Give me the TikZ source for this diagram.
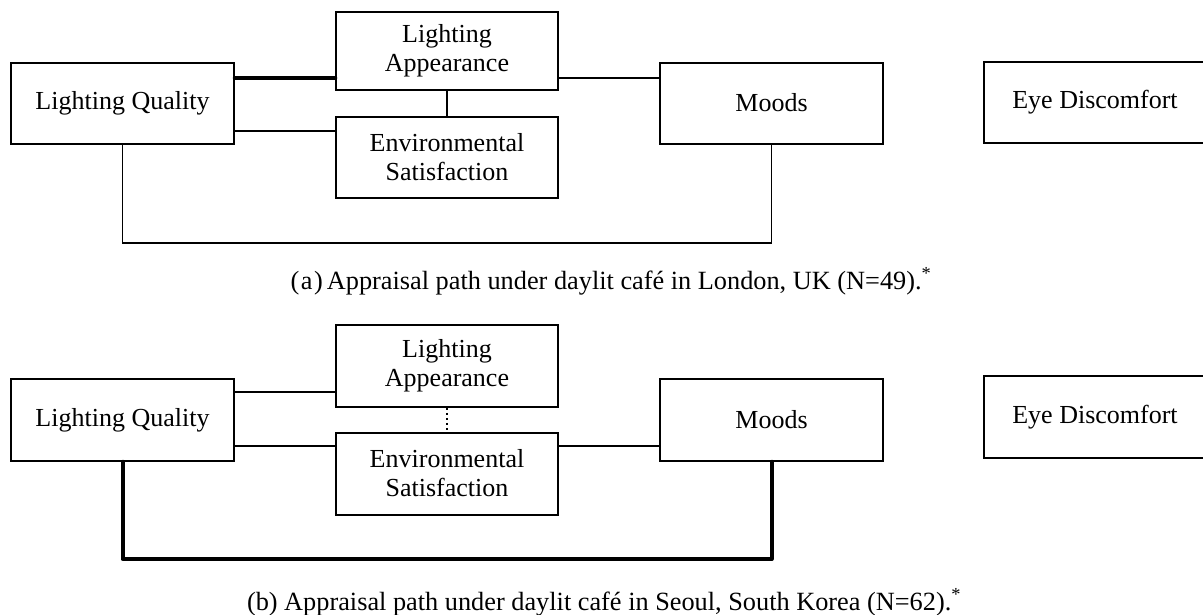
\documentclass[tikz,border=0pt]{standalone}
\usepackage{fontspec}
\setmainfont{Liberation Serif}
\newcommand\bst{\rule[-2pt]{0pt}{20pt}}
\begin{document}
\begin{tikzpicture}[x=1pt,y=-1pt,
  box/.style={draw=black, line width=1.5pt, minimum width=222pt, minimum height=81pt, inner sep=0pt, align=center, font=\fontsize{26}{29}\selectfont},
  thinline/.style={line width=1.3pt},
  thickline/.style={line width=4pt, line cap=round, line join=round},
  dotline/.style={line width=1.2pt, dash pattern=on 2pt off 3pt},
  caption/.style={anchor=base, font=\fontsize{26.3}{29}\selectfont, inner sep=0pt}]
\useasboundingbox (0,0) rectangle (1203,614);
\clip (0,0) rectangle (1203,614);
% ---------- (a) ----------
\node[box, minimum width=223pt] (LQa) at (122.5,103.5) {\bst Lighting Quality};
\node[box, minimum height=78pt] (LAa) at (447,51) {\bst Lighting\\\bst Appearance};
\node[box] (ESa) at (447,157.5) {\bst Environmental\\\bst Satisfaction};
\node[box, minimum width=223pt] (MOa) at (771.5,103.5) {\bst Moods};
\node[box] (EYa) at (1095,102.5) {\bst Eye Discomfort};
\draw[thickline] (LQa.east |- 0,78) -- (LAa.west |- 0,78);
\draw[thinline] (LQa.east |- 0,131) -- (ESa.west |- 0,131);
\draw[thinline] (LAa.south) -- (ESa.north);
\draw[thinline] (LAa.east |- 0,78) -- (MOa.west |- 0,78);
\draw[thinline] (LQa.south) -- (LQa.south |- 0,243) -| (MOa.south);
\node[caption] (capa) at (611,289) {(\kern1.5pt a\kern1.5pt)\kern4pt Appraisal path under daylit café in London, UK (N=49).\textsuperscript{*}};
% ---------- (b) ----------
\node[box, minimum width=223pt, minimum height=82pt] (LQb) at (122.5,420) {\bst Lighting Quality};
\node[box, minimum height=82pt] (LAb) at (447,366) {\bst Lighting\\\bst Appearance};
\node[box, minimum height=82pt] (ESb) at (447,474) {\bst Environmental\\\bst Satisfaction};
\node[box, minimum width=223pt, minimum height=82pt] (MOb) at (771.5,420) {\bst Moods};
\node[box, minimum height=82pt] (EYb) at (1095,417) {\bst Eye Discomfort};
\draw[thinline] (LQb.east |- 0,392) -- (LAb.west |- 0,392);
\draw[thinline] (LQb.east |- 0,446) -- (ESb.west |- 0,446);
\draw[dotline] (LAb.south) -- (ESb.north);
\draw[thinline] (ESb.east |- 0,446) -- (MOb.west |- 0,446);
\draw[thickline] (LQb.south) -- (LQb.south |- 0,559) -| (MOb.south);
\node[caption] (capb) at (604,610) {(b) Appraisal path under daylit café in Seoul, South Korea (N=62).\textsuperscript{*}};
\end{tikzpicture}
\end{document}
